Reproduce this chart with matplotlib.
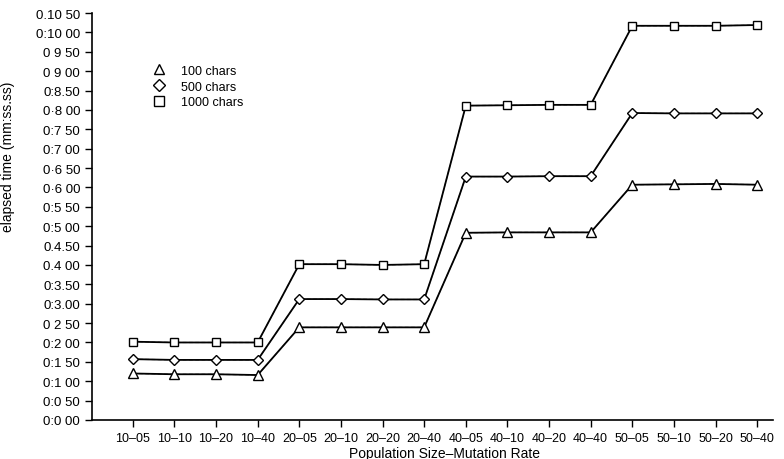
import matplotlib
matplotlib.use("Agg")
import matplotlib.pyplot as plt

plt.rcParams['font.family'] = ['Liberation Sans', 'DejaVu Sans']

categories = ["10–05", "10–10", "10–20", "10–40", "20–05", "20–10", "20–20", "20–40",
              "40–05", "40–10", "40–20", "40–40", "50–05", "50–10", "50–20", "50–40"]

chars_100 = [1.20, 1.18, 1.18, 1.16, 2.39, 2.39, 2.39, 2.39,
             4.83, 4.84, 4.84, 4.84, 6.07, 6.08, 6.09, 6.07]
chars_500 = [1.57, 1.55, 1.55, 1.55, 3.12, 3.12, 3.11, 3.11,
             6.28, 6.28, 6.29, 6.29, 7.92, 7.91, 7.91, 7.91]
chars_1000 = [2.02, 2.00, 2.00, 2.00, 4.02, 4.02, 4.00, 4.02,
              8.11, 8.12, 8.13, 8.13, 10.17, 10.17, 10.17, 10.19]

y_ticks = [0, 0.5, 1, 1.5, 2, 2.5, 3, 3.5, 4, 4.5, 5, 5.5, 6, 6.5, 7, 7.5, 8, 8.5,
           9, 9.5, 10, 10.5]
y_tick_labels = ["0:0 00", "0:0 50", "0:1 00", "0:1 50", "0:2 00", "0 2 50", "0:3.00",
                 "0:3.50", "0.4 00", "0.4.50", "0:5 00", "0:5 50", "0·6 00", "0·6 50",
                 "0:7 00", "0:7 50", "0·8 00", "0:8.50", "0 9 00", "0 9 50", "0:10 00",
                 "0.10 50"]

series = [("100 chars", chars_100, "^", 6.5),
          ("500 chars", chars_500, "D", 5.5),
          ("1000 chars", chars_1000, "s", 6)]

fig = plt.figure(figsize=(7.84, 4.60), dpi=100)
ax = fig.add_axes([92 / 784, 39 / 460, 681 / 784, 407 / 460])

x = list(range(len(categories)))
for label, vals, mk, ms in series:
    ax.plot(x, vals, color="#999999", lw=0.9, ls=(0, (3, 2)), zorder=2)
    ax.plot(x, vals, color="black", lw=1.3, marker=mk, markersize=ms,
            markerfacecolor="white", markeredgecolor="black",
            markeredgewidth=1.0, zorder=3)

ax.set_xlim(-0.98, 15.38)
ax.set_ylim(0, 10.5)
ax.set_xticks(x)
ax.set_xticklabels(categories, fontsize=9)
ax.set_yticks(y_ticks)
ax.set_yticklabels(y_tick_labels, fontsize=9.5)
ax.tick_params(axis="both", direction="out", length=5, width=1, colors="black")
ax.tick_params(axis="x", pad=4)
ax.spines["top"].set_visible(False)
ax.spines["right"].set_visible(False)
ax.spines["left"].set_linewidth(1.2)
ax.spines["bottom"].set_linewidth(1.2)

fig.text(445 / 784, 1 - 454 / 460, "Population Size–Mutation Rate", fontsize=10,
         ha="center", va="center")
fig.text(0.001, 0.66, "elapsed time (mm:ss.ss)", rotation=90, fontsize=10,
         ha="left", va="center")

leg_handles = []
for label, vals, mk, ms in series:
    h, = ax.plot([], [], ls="none", marker=mk, markersize=ms + 0.5,
                 markerfacecolor="white", markeredgecolor="black",
                 markeredgewidth=1.0, label=label)
    leg_handles.append(h)
ax.legend(handles=leg_handles, loc="upper left", bbox_to_anchor=(0.078, 0.885),
          frameon=False, fontsize=9, handletextpad=1.0, labelspacing=0.3,
          handlelength=1.5, borderaxespad=0)

fig.savefig("out.png", dpi=100)
